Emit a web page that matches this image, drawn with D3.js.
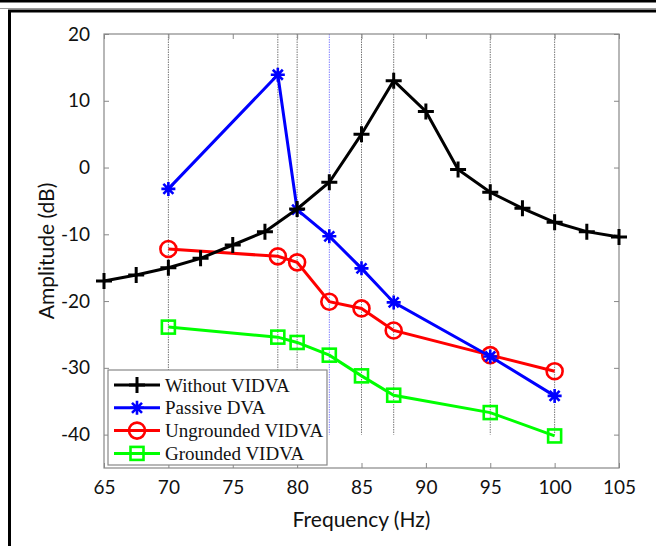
<!DOCTYPE html>
<html>
<head>
<meta http-equiv="Content-Type" content="text/html;charset=utf-8"/>
<script src="https://d3js.org/d3.v7.min.js"></script>
<style type="text/css">
body { margin: 0; background: #fff; }
.tick text { font-family: "Lato", "Liberation Sans", sans-serif; font-size: 19px; fill: #111; }
.axislabel { font-family: "Lato", "Liberation Sans", sans-serif; font-size: 21px; fill: #111; }
.legend text { font-family: "Liberation Serif", serif; font-size: 19px; fill: #111; }
</style>
</head>
<body>
<script>
// chart data
var freqBlack = [65, 67.5, 70, 72.5, 75, 77.5, 80, 82.5, 85, 87.5, 90, 92.5, 95, 97.5, 100, 102.5, 105];
var withoutVIDVA = [-17.0, -16.1, -15.0, -13.6, -11.6, -9.6, -6.2, -2.2, 5.0, 13.0, 8.4, -0.3, -3.7, -6.1, -8.2, -9.6, -10.4];

var freqTest = [70, 78.5, 80, 82.5, 85, 87.5, 95, 100];
var passiveDVA = [-3.2, 13.9, -6.3, -10.3, -15.1, -20.2, -28.3, -34.2];
var ungroundedVIDVA = [-12.2, -13.3, -14.2, -20.1, -21.1, -24.4, -28.1, -30.5];
var groundedVIDVA = [-23.9, -25.4, -26.2, -28.1, -31.2, -34.1, -36.7, -40.2];

var gridFreqs = [70, 78.5, 80, 82.5, 85, 87.5, 95, 100];
var xTicks = [65, 70, 75, 80, 85, 90, 95, 100, 105];
var yTicks = [20, 10, 0, -10, -20, -30, -40];

var seriesNames = ["Without VIDVA", "Passive DVA", "Ungrounded VIDVA", "Grounded VIDVA"];
var seriesColors = ["#000000", "#0000ff", "#ff0000", "#00ff00"];
var seriesMarkers = ["plus", "star", "circle", "square"];

var width = 656,
    height = 546,
    margin = {left: 104, right: 37, top: 34, bottom: 78};

var svg = d3.select("body")
            .append("svg")
            .attr("width", width)
            .attr("height", height);

// outer frame of the figure
svg.append("rect").attr("x", 0).attr("y", 0).attr("width", width).attr("height", 2.5).attr("fill", "#000");
svg.append("line").attr("x1", 0).attr("x2", width).attr("y1", 8.5).attr("y2", 8.5)
   .attr("stroke", "#999").attr("stroke-width", 1);
svg.append("rect").attr("x", 9.5).attr("y", 11).attr("width", width + 20).attr("height", height + 20)
   .attr("fill", "none").attr("stroke", "#000").attr("stroke-width", 3);

var x = d3.scaleLinear().domain([65, 105]).range([margin.left, width - margin.right]);
var y = d3.scaleLinear().domain([-45, 20]).range([height - margin.bottom, margin.top]);

var x0 = x.range()[0], x1 = x.range()[1], y0 = y.range()[0], y1 = y.range()[1];

// vertical marker lines
svg.append("g")
   .selectAll("line")
   .data(gridFreqs)
   .enter()
   .append("line")
   .attr("x1", function(d) { return x(d); })
   .attr("x2", function(d) { return x(d); })
   .attr("y1", y(20))
   .attr("y2", y(-40))
   .attr("stroke", function(d) { return d === 82.5 ? "#8080ff" : "#777"; })
   .attr("stroke-width", 1)
   .attr("stroke-dasharray", "1.5,1");

// axes
function styleAxis(g) {
    g.select(".domain").remove();
    g.selectAll(".tick line").attr("stroke", "#888");
}
svg.append("g")
   .attr("transform", "translate(0," + y0 + ")")
   .call(d3.axisBottom(x).tickValues(xTicks).tickSizeInner(-5).tickSizeOuter(0).tickPadding(13))
   .call(styleAxis);
svg.append("g")
   .attr("transform", "translate(0," + y1 + ")")
   .call(d3.axisTop(x).tickValues(xTicks).tickSizeInner(-5).tickSizeOuter(0).tickFormat(""))
   .call(styleAxis);
svg.append("g")
   .attr("transform", "translate(" + x0 + ",0)")
   .call(d3.axisLeft(y).tickValues(yTicks).tickSizeInner(-5).tickSizeOuter(0).tickPadding(14))
   .call(styleAxis);
svg.append("g")
   .attr("transform", "translate(" + x1 + ",0)")
   .call(d3.axisRight(y).tickValues(yTicks).tickSizeInner(-5).tickSizeOuter(0).tickFormat(""))
   .call(styleAxis);

svg.append("rect")
   .attr("x", x0).attr("y", y1).attr("width", x1 - x0).attr("height", y0 - y1)
   .attr("fill", "none").attr("stroke", "#888").attr("stroke-width", 1.2);

svg.selectAll(".tick text").text(function(d) { return d3.select(this).text().replace("−", "-"); });

// axis labels
svg.append("text").attr("class", "axislabel")
   .attr("x", (x0 + x1) / 2).attr("y", 527)
   .attr("text-anchor", "middle")
   .text("Frequency (Hz)");
svg.append("text").attr("class", "axislabel")
   .attr("transform", "translate(54," + ((y0 + y1) / 2) + ") rotate(-90)")
   .attr("text-anchor", "middle")
   .text("Amplitude (dB)");

// markers
function drawMarker(g, type, color) {
    if (type === "plus") {
        g.append("path").attr("d", "M-8,0H8M0,-8V8")
         .attr("stroke", color).attr("stroke-width", 3).attr("fill", "none");
    } else if (type === "star") {
        g.append("path").attr("d", "M-7,0H7M0,-7V7M-5,-5L5,5M-5,5L5,-5")
         .attr("stroke", color).attr("stroke-width", 2.6).attr("fill", "none");
    } else if (type === "circle") {
        g.append("circle").attr("r", 8)
         .attr("stroke", color).attr("stroke-width", 2.6).attr("fill", "none");
    } else {
        g.append("rect").attr("x", -6.5).attr("y", -6.5).attr("width", 13).attr("height", 13)
         .attr("stroke", color).attr("stroke-width", 2.6).attr("fill", "none");
    }
}

var allSeries = [
    {xs: freqBlack, ys: withoutVIDVA},
    {xs: freqTest, ys: passiveDVA},
    {xs: freqTest, ys: ungroundedVIDVA},
    {xs: freqTest, ys: groundedVIDVA}
];

var line = d3.line()
             .x(function(d) { return x(d[0]); })
             .y(function(d) { return y(d[1]); });

// draw in reverse order so black ends on top
[3, 2, 1, 0].forEach(function(i) {
    var s = allSeries[i];
    var pts = s.xs.map(function(f, j) { return [f, s.ys[j]]; });
    svg.append("path")
       .datum(pts)
       .attr("d", line)
       .attr("fill", "none")
       .attr("stroke", seriesColors[i])
       .attr("stroke-width", 3);
    pts.forEach(function(p) {
        var g = svg.append("g").attr("transform", "translate(" + x(p[0]) + "," + y(p[1]) + ")");
        drawMarker(g, seriesMarkers[i], seriesColors[i]);
    });
});

// legend
var legend = svg.append("g").attr("class", "legend");
legend.append("rect")
      .attr("x", 108).attr("y", 370).attr("width", 219).attr("height", 95)
      .attr("fill", "#fff").attr("stroke", "#888").attr("stroke-width", 1.2);

seriesNames.forEach(function(name, i) {
    var ly = 385 + i * 22.8;
    legend.append("line")
          .attr("x1", 114).attr("x2", 160).attr("y1", ly).attr("y2", ly)
          .attr("stroke", seriesColors[i]).attr("stroke-width", 3);
    drawMarker(legend.append("g").attr("transform", "translate(137," + ly + ")"), seriesMarkers[i], seriesColors[i]);
    legend.append("text")
          .attr("x", 165).attr("y", ly + 6.5)
          .text(name);
});
</script>
</body>
</html>
